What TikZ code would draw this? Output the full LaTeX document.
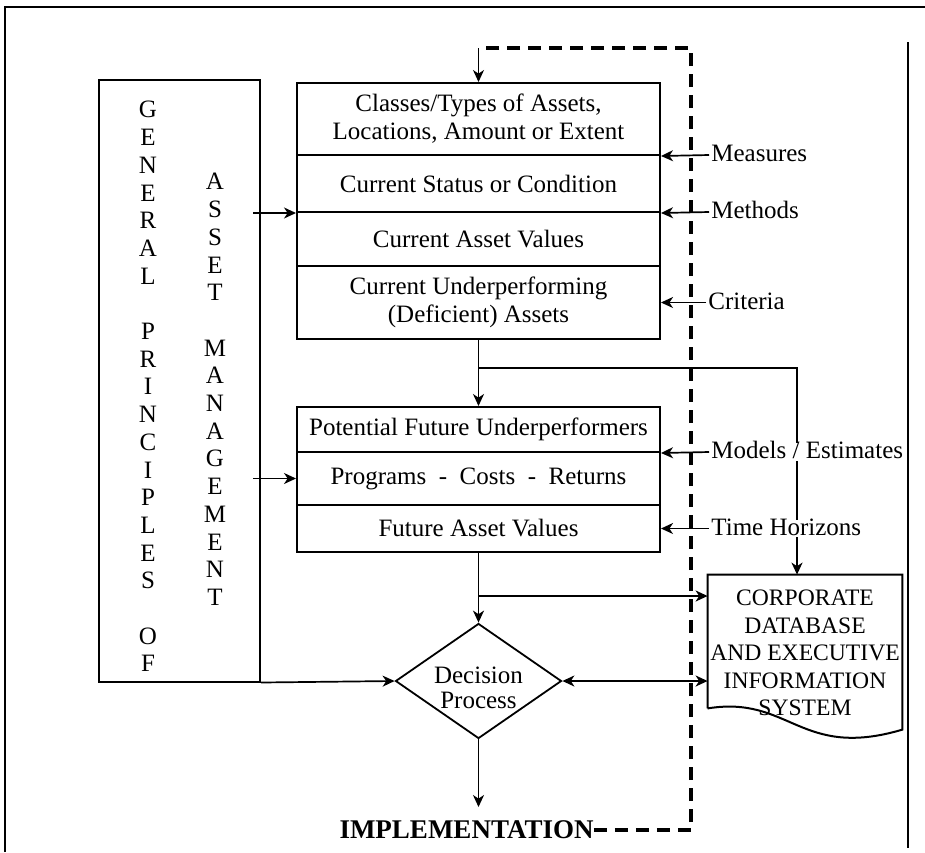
\documentclass[tikz,border=0pt]{standalone}
\usepackage{fontspec}
\setmainfont{Liberation Serif}
\usetikzlibrary{arrows.meta,shapes.geometric}
\begin{document}
\begin{tikzpicture}[x=0.5pt,y=-0.5pt,
  sec/.style={draw, line width=1pt, minimum width=181.5pt, inner sep=0pt, align=center,
    font=\fontsize{12.5}{14}\selectfont},
  lab/.style={font=\fontsize{12.5}{14}\selectfont, fill=white, inner sep=1pt, anchor=west,
    text height=0.66em, text depth=0pt},
  arr/.style={-{Stealth[length=6pt,width=5.5pt,inset=1.8pt]}, line width=0.85pt},
  darr/.style={{Stealth[length=6pt,width=5.5pt,inset=1.8pt]}-{Stealth[length=6pt,width=5.5pt,inset=1.8pt]}, line width=0.85pt},
  fb/.style={line width=1.6pt, dash pattern=on 6.5pt off 4pt},
  letters/.style={align=center, inner sep=0pt, anchor=north, font=\fontsize{12.5}{13.85}\selectfont}
]
\useasboundingbox (0,0) rectangle (925,852);
% outer frame
\draw[line width=1.3pt] (5,852) -- (5,7) -- (925,7);
\draw[line width=0.9pt] (908,42) -- (908,848);

% left box
\node[draw, line width=1pt, minimum width=80.5pt, minimum height=301pt, inner sep=0pt] (gp) at (179.5,380.5) {};
\node[letters] (c1) at (148,101) {G\\E\\N\\E\\R\\A\\L\\[13.85pt]P\\R\\I\\N\\C\\I\\P\\L\\E\\S\\[13.85pt]O\\F};
\node[letters] (c2) at (215,173) {A\\S\\S\\E\\T\\[13.85pt]M\\A\\N\\A\\G\\E\\M\\E\\N\\T};

% box 1
\node[sec, minimum height=36pt] (b1a) at (478.5,119) {Classes/Types of Assets,\\Locations, Amount or Extent};
\node[sec, minimum height=28.5pt] (b1b) at (478.5,183.5) {Current Status or Condition};
\node[sec, minimum height=27pt] (b1c) at (478.5,239) {Current Asset Values};
\node[sec, minimum height=36.5pt] (b1d) at (478.5,302.5) {Current Underperforming\\(Deficient) Assets};

% box 2
\node[sec, minimum height=22.5pt] (b2a) at (478.5,429.5) {Potential Future Underperformers};
\node[sec, minimum height=26.5pt] (b2b) at (478.5,478.5) {Programs \ - \ Costs \ - \ Returns};
\node[sec, minimum height=23.5pt] (b2c) at (478.5,528.5) {Future Asset Values};

% corporate database
\node[minimum width=97pt, minimum height=66.5pt, inner sep=0pt] (corp) at (805,641.5) {};
\draw[line width=1pt] (corp.south west) -- (corp.north west) -- (corp.north east) -- ++(0,155)
  .. controls (800,760) and (790,695) .. (corp.south west);
\node[align=center, inner sep=0pt, font=\fontsize{11.8}{13.75}\selectfont] (corptxt) at (805,653)
  {CORPORATE\\DATABASE\\AND EXECUTIVE\\INFORMATION\\SYSTEM};

% decision
\node[diamond, draw, line width=0.9pt, minimum width=83pt, minimum height=57.5pt, inner sep=0pt] (dec) at (478.5,681) {};
\node[align=center, inner sep=0pt, font=\fontsize{12.5}{12.5}\selectfont] (dect) at (478.5,688) {Decision\\Process};

% implementation
\node[inner sep=0pt, font=\bfseries\fontsize{13.5}{15}\selectfont] (impl) at (466.5,830) {IMPLEMENTATION};

% branch to database (drawn before labels)
\coordinate (br1) at (478.5,368);
\draw[arr] (br1) -| ([xshift=-4pt]corp.north);

% feedback dashed loop
\coordinate (fbbot) at (691,830);
\coordinate (fbcorner) at (691,48);
\coordinate (fbtop) at (478.5,48);
\draw[fb] (impl.east) -- (fbbot) -- (fbcorner) -- (fbtop);
\draw[arr] (fbtop) -- (b1a.north);

% right labels
\node[lab] (meas) at (709,155) {Measures};
\node[lab] (meth) at (709,212) {Methods};
\node[lab] (crit) at (706,302.5) {Criteria};
\node[lab] (mod) at (709,452) {Models / Estimates};
\node[lab] (time) at (709,528.5) {Time Horizons};
\draw[arr] (meas.west) -- (b1a.south east);
\draw[arr] (meth.west) -- (b1b.south east);
\draw[arr] (crit.west) -- (b1d.east);
\draw[arr] (mod.west) -- (b2a.south east);
\draw[arr] (time.west) -- (b2c.east);

% left inputs
\draw[arr] ([xshift=-4pt]gp.east |- b1b.south west) -- (b1b.south west);
\draw[arr] ([xshift=-4pt]gp.east |- b2b.west) -- (b2b.west);

% main flow
\draw[arr] (b1d.south) -- (b2a.north);
\draw[arr] (b2c.south) -- (dec.north);
\coordinate (br2) at (478.5,596);
\draw[arr] (br2) -- (br2 -| corp.west);
\draw[arr] (gp.south east) -- (dec.west);
\draw[darr] (dec.east) -- (dec.east -| corp.west);
\coordinate (implin) at (478.5,807);
\draw[arr] (dec.south) -- (implin);
\end{tikzpicture}
\end{document}
